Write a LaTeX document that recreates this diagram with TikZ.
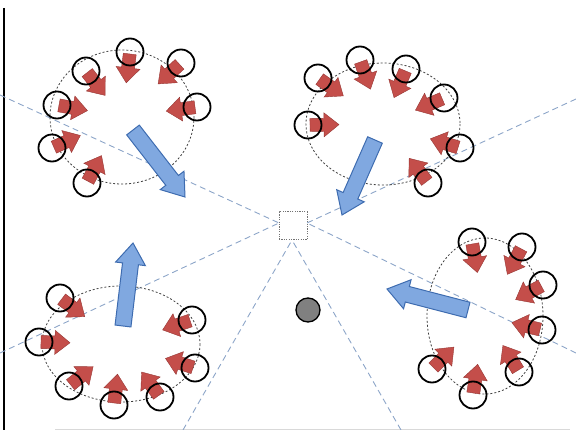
\documentclass[tikz,border=0pt]{standalone}
\usetikzlibrary{calc}
\definecolor{redf}{RGB}{196,78,74}
\definecolor{redd}{RGB}{150,55,52}
\definecolor{bluef}{RGB}{128,168,224}
\definecolor{blued}{RGB}{62,108,176}
\definecolor{sight}{RGB}{140,165,200}
\tikzset{
 redarr/.style={fill=redf, draw=redd, line width=0.4pt},
 bluearr/.style={fill=bluef, draw=blued, line width=1pt, line join=miter},
 ring/.style={draw=black, line width=1.8pt},
 orbit/.style={draw=black!75, line width=0.8pt, dash pattern=on 2pt off 2pt},
 sightline/.style={draw=sight, line width=0.9pt, dash pattern=on 6pt off 4pt},
}
\newcommand\redarrow[4]{%
 \coordinate (C) at (#3,#4);
 \coordinate (P) at ($(#1,#2)!2pt!(C)$);
 \coordinate (A) at ($(P)!14pt!(C)$);
 \path[redarr] ($(P)!6.5pt!90:(C)$) -- ($(A)!6.5pt!90:(C)$) -- ($(A)!12pt!90:(C)$) -- ($(P)!29pt!(C)$) -- ($(A)!12pt!-90:(C)$) -- ($(A)!6.5pt!-90:(C)$) -- ($(P)!6.5pt!-90:(C)$) -- cycle;
 \draw[ring] (#1,#2) circle[radius=13.5];
}
\newcommand\bluearrow[4]{%
 \coordinate (T) at (#1,#2);
 \coordinate (H) at (#3,#4);
 \coordinate (B) at ($(H)!21pt!(T)$);
 \path[bluearr] ($(T)!8pt!90:(H)$) -- ($(B)!8pt!90:(H)$) -- ($(B)!15pt!90:(H)$) -- (H) -- ($(B)!15pt!-90:(H)$) -- ($(B)!8pt!-90:(H)$) -- ($(T)!8pt!-90:(H)$) -- cycle;
}
\begin{document}
\begin{tikzpicture}[x=1pt,y=-1pt]
\useasboundingbox (0,0) rectangle (576,430);
% frame lines
\draw[black, line width=2.5pt] (4,8) -- (4,430);
\draw[black!15, line width=1pt] (55,429) -- (570,429);
% observer box
\node[draw=black!55, dash pattern=on 1.2pt off 1.2pt, line width=1pt, minimum size=28pt, inner sep=0] (obs) at (293,226) {};
\coordinate (ol) at (279,223);
\coordinate (or) at (307,223);
\coordinate (ob) at (292,240);
\coordinate (e1) at (0,95);
\coordinate (e2) at (0,353);
\coordinate (e3) at (576,99);
\coordinate (e4) at (576,353);
\coordinate (e5) at (183,430);
\coordinate (e6) at (401,430);
\draw[sightline] (e1) -- (ol);
\draw[sightline] (e2) -- (ol);
\draw[sightline] (e3) -- (or);
\draw[sightline] (e4) -- (or);
\draw[sightline] (e5) -- (ob);
\draw[sightline] (e6) -- (ob);
% dot
\node[circle, fill=black!50, draw=black, line width=1.3pt, minimum size=24pt, inner sep=0] (dot) at (308,310) {};
% cluster 1 (top left)
\draw[orbit] (122,117) ellipse [x radius=72, y radius=67];
\foreach \px/\py in {130/52, 86/71, 181/63, 57/105, 197/107, 52/148, 87/183}
 {\redarrow{\px}{\py}{122}{117}}
% cluster 2 (top right)
\draw[orbit] (383,124) ellipse [x radius=77, y radius=61];
\foreach \px/\py in {360/60, 318/78, 406/69, 444/98, 308/125, 460/148, 428/183}
 {\redarrow{\px}{\py}{383}{124}}
% cluster 3 (bottom left)
\draw[orbit] (121,344) ellipse [x radius=79, y radius=58];
\foreach \px/\py in {60/298, 39/342, 192/320, 195/368, 69/386, 114/405, 160/397}
 {\redarrow{\px}{\py}{121}{344}}
% cluster 4 (bottom right)
\draw[orbit] (485,316) ellipse [x radius=58, y radius=78];
\foreach \px/\py in {472/242, 522/247, 543/285, 542/330, 432/369, 519/372, 473/395}
 {\redarrow{\px}{\py}{485}{316}}
% blue movement arrows
\bluearrow{133}{130}{185}{197}
\bluearrow{375}{140}{342}{215}
\bluearrow{123}{326}{133}{243}
\bluearrow{468}{310}{387}{289}
\end{tikzpicture}
\end{document}
